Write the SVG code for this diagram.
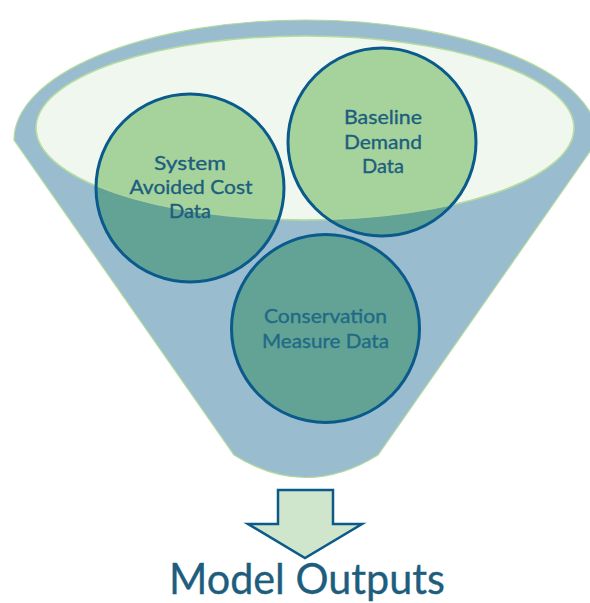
<svg xmlns="http://www.w3.org/2000/svg" width="590" height="603" viewBox="0 0 590 603">
<style>
.txt{font-family:Lato,"Open Sans","Liberation Sans",sans-serif;fill:#1d5e7e;text-anchor:middle;stroke:#1d5e7e;stroke-width:0.35}
.lbl{font-size:20px}
.ring{fill:none;stroke:#0a5a8c;stroke-width:3}
.dark{fill:#62a395}
.light{fill:#a6d39c}
</style>
<defs>
<clipPath id="inner"><ellipse cx="305" cy="128" rx="269" ry="92"/></clipPath>
</defs>
<rect width="590" height="603" fill="#ffffff"/>
<g id="funnel">
<path d="M14,140 A292,120 0 1 1 598,140 L378,455 Q306,500 234,455 Z" fill="#99bccf" stroke="#b3da9c" stroke-width="1.2"/>
<ellipse cx="305" cy="128" rx="269" ry="92" fill="#eff7ee" stroke="#b6dca0" stroke-width="1.5"/>
</g>
<g id="node-system">
<circle cx="190" cy="188" r="94" class="dark"/>
<circle cx="190" cy="188" r="94" class="light" clip-path="url(#inner)"/>
</g>
<g id="node-baseline">
<circle cx="382" cy="142" r="94" class="dark"/>
<circle cx="382" cy="142" r="94" class="light" clip-path="url(#inner)"/>
</g>
<g id="node-conservation">
<circle cx="325.5" cy="328.5" r="94" class="dark"/>
</g>
<path d="M36,128 A269,92 0 0 0 574,128" fill="none" stroke="#b6dca0" stroke-width="1" opacity="0.7"/>
<circle cx="190" cy="188" r="94" class="ring"/>
<circle cx="382" cy="142" r="94" class="ring"/>
<circle cx="325.5" cy="328.5" r="94" class="ring"/>
<g class="txt lbl">
<text x="190" y="170" textLength="72" lengthAdjust="spacingAndGlyphs">System</text>
<text x="191" y="194" textLength="123" lengthAdjust="spacingAndGlyphs">Avoided Cost</text>
<text x="190" y="218">Data</text>
<text x="383" y="124" textLength="78" lengthAdjust="spacingAndGlyphs">Baseline</text>
<text x="383" y="149" textLength="78" lengthAdjust="spacingAndGlyphs">Demand</text>
<text x="383" y="173">Data</text>
<text x="325.5" y="323" fill="#216a86" stroke="#216a86" textLength="123" lengthAdjust="spacingAndGlyphs">Conservation</text>
<text x="325.5" y="348" fill="#216a86" stroke="#216a86" textLength="127" lengthAdjust="spacingAndGlyphs">Measure Data</text>
</g>
<g id="connectors">
<path d="M278,490 L333,490 L333,524 L362,524 L305,558 L248,524 L278,524 Z" fill="#d0e6cc" stroke="#0b5a8a" stroke-width="2.5" stroke-linejoin="miter"/>
</g>
<g id="node-output">
<text x="307" y="594" class="txt" font-size="43" fill="#0f5a86" stroke="#0f5a86" stroke-width="0.6" textLength="276" lengthAdjust="spacingAndGlyphs">Model Outputs</text>
</g>
</svg>
